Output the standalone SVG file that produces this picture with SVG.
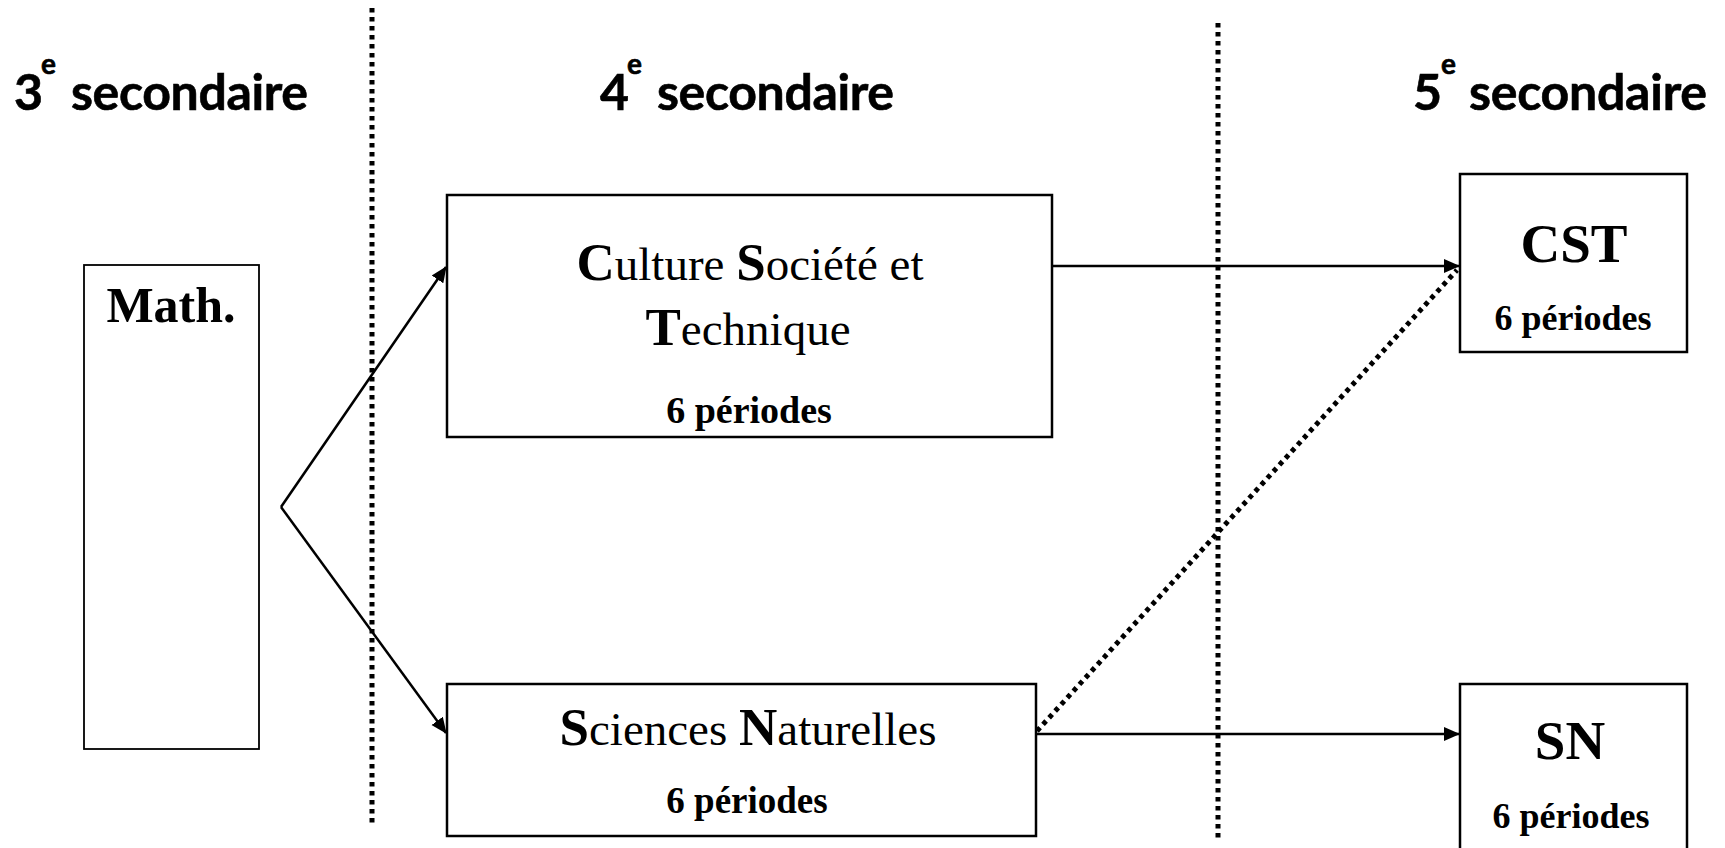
<svg xmlns="http://www.w3.org/2000/svg" width="1725" height="848" viewBox="0 0 1725 848">
<style>
.box{fill:#fff;stroke:#000;stroke-width:2.5}
.h{font-family:Lato,"Open Sans","DejaVu Sans",sans-serif;font-weight:bold;font-size:50px;fill:#000;stroke:#000;stroke-width:0.6}
.sup{font-family:Lato,"Open Sans","DejaVu Sans",sans-serif;font-weight:bold;font-size:28px;fill:#000}
.serif{font-family:"Liberation Serif","DejaVu Serif",serif;fill:#000}
.reg{font-size:47px}
.cap{font-size:53px;font-weight:900}
.per{font-weight:bold;text-anchor:middle}
.big{font-weight:bold;font-size:55px;text-anchor:middle}
.con{fill:none;stroke:#000;stroke-width:2.5}
.dot{fill:none;stroke:#000;stroke-width:5;stroke-dasharray:4.5 4.5}
</style>
<defs>
<marker id="arr" markerUnits="userSpaceOnUse" markerWidth="16" markerHeight="16" viewBox="0 0 16 14" refX="15" refY="7" orient="auto">
<path d="M0,0 L16,7 L0,14 Z" fill="#000"/>
</marker>
</defs>
<rect width="1725" height="848" fill="#fff"/>

<g id="headers">
<text class="h" x="14" y="110">3<tspan class="sup" x="41" y="74">e</tspan><tspan x="71" y="110" textLength="237">secondaire</tspan></text>
<text class="h" x="600" y="110">4<tspan class="sup" x="627" y="74">e</tspan><tspan x="657" y="110" textLength="237">secondaire</tspan></text>
<text class="h" x="1413" y="110">5<tspan class="sup" x="1441" y="74">e</tspan><tspan x="1469" y="110" textLength="238">secondaire</tspan></text>
</g>

<g id="dividers">
<line class="dot" x1="372" y1="8" x2="372" y2="823"/>
<line class="dot" x1="1218" y1="23" x2="1218" y2="838"/>
</g>

<g id="connectors">
<path class="con" d="M281,507 L446,267" marker-end="url(#arr)"/>
<path class="con" d="M281,507 L446,733" marker-end="url(#arr)"/>
<path class="con" d="M1052,266 L1459,266" marker-end="url(#arr)"/>
<path class="con" d="M1036,734 L1459,734" marker-end="url(#arr)"/>
<path class="dot" d="M1037,731 L1457,270"/>
</g>

<g id="math">
<rect class="box" x="84" y="265" width="175" height="484" style="stroke-width:1.8"/>
<text class="serif" x="171" y="322" text-anchor="middle" font-weight="bold" font-size="50">Math.</text>
</g>

<g id="cst4">
<rect class="box" x="447" y="195" width="605" height="242"/>
<text class="serif reg" x="750" y="280" text-anchor="middle"><tspan class="cap">C</tspan>ulture <tspan class="cap">S</tspan>ociété et</text>
<text class="serif reg" x="748" y="345" text-anchor="middle"><tspan class="cap">T</tspan>echnique</text>
<text class="serif per" x="749" y="423" font-size="38">6 périodes</text>
</g>

<g id="sn4">
<rect class="box" x="447" y="684" width="589" height="152"/>
<text class="serif reg" x="748" y="745" text-anchor="middle"><tspan class="cap">S</tspan>ciences <tspan class="cap">N</tspan>aturelles</text>
<text class="serif per" x="747" y="813" font-size="37">6 périodes</text>
</g>

<g id="cst5">
<rect class="box" x="1460" y="174" width="227" height="178"/>
<text class="serif big" x="1574" y="262">CST</text>
<text class="serif per" x="1573" y="330" font-size="36">6 périodes</text>
</g>

<g id="sn5">
<rect class="box" x="1460" y="684" width="227" height="180"/>
<text class="serif big" x="1570" y="759">SN</text>
<text class="serif per" x="1571" y="828" font-size="36">6 périodes</text>
</g>
</svg>
